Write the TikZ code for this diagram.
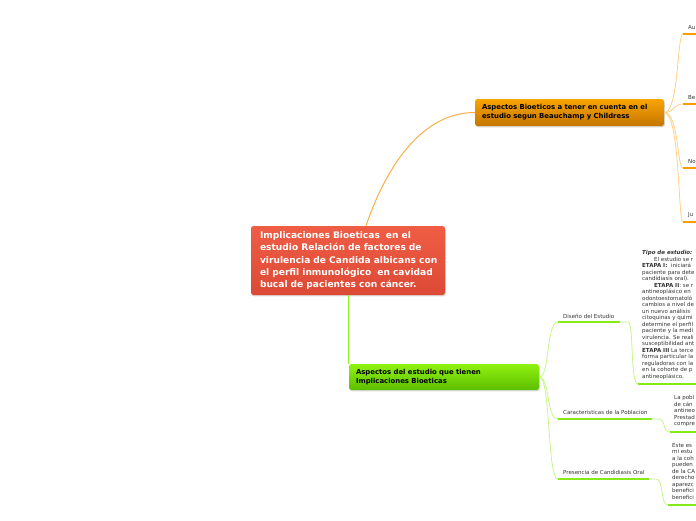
\documentclass[tikz,border=0pt]{standalone}
\usepackage{fontspec}
\setmainfont{DejaVu Sans}
\usetikzlibrary{shadows}
\definecolor{redtop}{HTML}{F05D45}
\definecolor{redbot}{HTML}{DC4A36}
\definecolor{orgtop}{HTML}{FAA400}
\definecolor{orgbot}{HTML}{C47600}
\definecolor{grntop}{HTML}{90F210}
\definecolor{grnbot}{HTML}{5CBE00}
\definecolor{obranch}{HTML}{FFCF85}
\definecolor{ocurve}{HTML}{F9AE45}
\definecolor{oline}{HTML}{F99D00}
\definecolor{gbranch}{HTML}{C6F58A}
\definecolor{gcurve}{HTML}{95EC2A}
\definecolor{gline}{HTML}{84EA18}
\definecolor{txt}{HTML}{333333}
\tikzset{
  topic/.style={rectangle, rounded corners=2.5pt, inner sep=0pt, align=left,
    drop shadow={opacity=0.3, shadow xshift=0.8pt, shadow yshift=-1.4pt}},
  mainbox/.style={topic, minimum width=194pt, minimum height=69pt, text width=176pt,
    top color=redtop, bottom color=redbot, text=white,
    font=\fontsize{9.1}{12.3}\selectfont\bfseries},
  orgbox/.style={topic, minimum width=189pt, minimum height=27pt, text width=175pt,
    top color=orgtop, bottom color=orgbot, text=black,
    font=\fontsize{6.9}{9}\selectfont\bfseries},
  grnbox/.style={topic, minimum width=190pt, minimum height=26pt, text width=176pt,
    top color=grntop, bottom color=grnbot, text=black,
    font=\fontsize{6.9}{9}\selectfont\bfseries},
  lbl/.style={anchor=west, inner sep=0pt, text=txt, font=\fontsize{5.5}{6}\selectfont},
  blk/.style={anchor=north west, inner sep=0pt, align=left, text=txt,
    font=\fontsize{5.5}{6.5}\selectfont},
  obr/.style={draw=obranch, line width=0.8pt},
  gbr/.style={draw=gbranch, line width=0.8pt},
  oul/.style={draw=oline, line width=2.6pt},
  gul/.style={draw=gline, line width=2.6pt},
}
\begin{document}
\begin{tikzpicture}[x=1pt,y=-1pt]
\useasboundingbox (0,0) rectangle (696,520);
\clip (0,0) rectangle (696,520);

\node[mainbox] (central) at (348,260.5) {\mbox{Implicaciones Bioeticas\ \ en el}\\
\mbox{estudio Relación de factores de}\\
\mbox{virulencia de Candida albicans con}\\
\mbox{el perfil inmunológico\ \ en cavidad}\\
\mbox{bucal de pacientes con cáncer.}};
\node[orgbox] (org) at (569.5,112.5) {\mbox{Aspectos Bioeticos a tener en cuenta en el}\\
\mbox{estudio segun Beauchamp y Childress}};
\node[grnbox] (grn) at (444,377) {\mbox{Aspectos del estudio que tienen}\\
\mbox{Implicaciones Bioeticas}};

% orange sub-branches
\coordinate (au) at (683,34);
\coordinate (be) at (683,104);
\coordinate (no) at (683,168);
\coordinate (ju) at (683,222);
\coordinate (auE) at (696,34);
\coordinate (beE) at (696,104);
\coordinate (noE) at (696,168);
\coordinate (juE) at (696,222);
\draw[obr] (org.east) .. controls (679,112.5) and (677,34) .. (au);
\draw[obr] (org.east) .. controls (675,112.5) and (673,104) .. (be);
\draw[obr] (org.east) .. controls (679,112.5) and (677,168) .. (no);
\draw[obr] (org.east) .. controls (680,112.5) and (678,222) .. (ju);
\draw[oul] (au) -- (auE);
\draw[oul] (be) -- (beE);
\draw[oul] (no) -- (noE);
\draw[oul] (ju) -- (juE);
\node[lbl] (laU) at (688,27.5) {Au};
\node[lbl] (lbE) at (688,97.5) {Be};
\node[lbl] (lnO) at (688,161.5) {No};
\node[lbl] (ljU) at (688,215.5) {Ju};

% green sub-branches
\coordinate (d1) at (558,322);
\coordinate (d2) at (620,322);
\coordinate (d3) at (628,322);
\coordinate (d4) at (638,384);
\coordinate (d5) at (696,384);
\coordinate (c1) at (558,419);
\coordinate (c2) at (652,419);
\coordinate (c3) at (659,419);
\coordinate (c4) at (670,432);
\coordinate (c5) at (696,432);
\coordinate (p1) at (558,479);
\coordinate (p2) at (649,479);
\coordinate (p3) at (656,479);
\coordinate (p4) at (668,505);
\coordinate (p5) at (696,505);
\draw[gbr] (grn.east) .. controls (550,377) and (546,322) .. (d1);
\draw[gbr] (grn.east) .. controls (550,377) and (546,419) .. (c1);
\draw[gbr] (grn.east) .. controls (551,377) and (547,479) .. (p1);
\draw[gbr] (d2) -- (d3) .. controls (634,322) and (630,384) .. (d4);
\draw[gbr] (c2) -- (c3) .. controls (666,419) and (662,432) .. (c4);
\draw[gbr] (p2) -- (p3) .. controls (664,479) and (660,505) .. (p4);
\draw[gul] (d1) -- (d2);
\draw[gul] (d4) -- (d5);
\draw[gul] (c1) -- (c2);
\draw[gul] (c4) -- (c5);
\draw[gul] (p1) -- (p2);
\draw[gul] (p4) -- (p5);
\node[lbl] (ldis) at (563,316) {Diseño del Estudio};
\node[lbl] (lcar) at (563,412) {Caracteristicas de la Poblacion};
\node[lbl] (lpre) at (563,472) {Presencia de Candidiasis Oral};

% text blocks
\node[blk] (tdis) at (642,250.5) {\textbf{\textit{Tipo de estudio:}}\\
\hspace*{12pt}El estudio se r\\
\textbf{ETAPA I:}\ \ iniciará\\
paciente para dete\\
candidiasis oral).\\
\hspace*{12pt}\textbf{ETAPA II}: se r\\
antineoplásico en\\
odontoestomatoló\\
cambios a nivel de\\
un nuevo análisis\\
citoquinas y quimi\\
determine el perfil\\
paciente y la medi\\
virulencia. Se reali\\
susceptibilidad ant\\
\textbf{ETAPA III} La terce\\
forma particular la\\
reguladoras con la\\
en la cohorte de p\\
antineoplásico.};
\node[blk] (tcar) at (674,395.5) {La pobl\\de cán\\antineo\\Prestad\\compre};
\node[blk] (tpre) at (672,443) {Este es\\mi estu\\a la coh\\pueden\\de la CA\\derecho\\aparezc\\benefici\\benefici};

% main connectors
\draw[draw=ocurve, line width=1pt] ([xshift=18pt]central.north) .. controls (385,170) and (420,112.5) .. (org.west);
\draw[draw=gcurve, line width=1pt] (central.south) -- (central.south |- grn.north);
\end{tikzpicture}
\end{document}
